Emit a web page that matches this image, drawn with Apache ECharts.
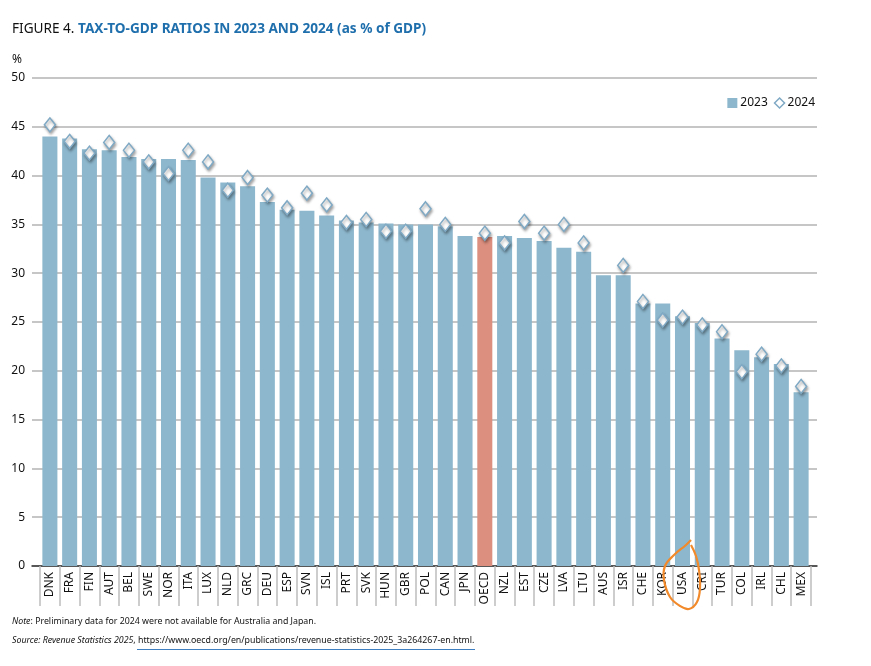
<!DOCTYPE html>
<html>
<head>
<meta charset="utf-8">
<script src="https://cdn.jsdelivr.net/npm/echarts@6/dist/echarts.min.js"></script>
<style>
  html, body { margin: 0; padding: 0; background: #fff; }
  #chart { width: 871px; height: 666px; }
</style>
</head>
<body>
<div id="chart"></div>
<script>
var chart = echarts.init(document.getElementById('chart'));

// countries, ranked by 2023 ratio
var countries = ['DNK', 'FRA', 'FIN', 'AUT', 'BEL', 'SWE', 'NOR', 'ITA', 'LUX', 'NLD',
  'GRC', 'DEU', 'ESP', 'SVN', 'ISL', 'PRT', 'SVK', 'HUN', 'GBR', 'POL',
  'CAN', 'JPN', 'OECD', 'NZL', 'EST', 'CZE', 'LVA', 'LTU', 'AUS', 'ISR',
  'CHE', 'KOR', 'USA', 'CRI', 'TUR', 'COL', 'IRL', 'CHL', 'MEX'];

// tax revenue as % of GDP, 2023
var values2023 = [44.0, 43.8, 42.7, 42.6, 41.9, 41.7, 41.7, 41.6, 39.8, 39.3,
  38.9, 37.3, 36.5, 36.4, 35.9, 35.4, 35.2, 35.1, 35.0, 35.0,
  34.8, 33.8, 33.7, 33.8, 33.6, 33.3, 32.6, 32.2, 29.8, 29.8,
  26.9, 26.9, 25.6, 24.9, 23.3, 22.1, 21.4, 20.7, 17.8];

// preliminary 2024 (not available for AUS and JPN)
var values2024 = [45.2, 43.5, 42.3, 43.4, 42.6, 41.4, 40.2, 42.6, 41.4, 38.5,
  39.8, 38.0, 36.7, 38.2, 37.0, 35.2, 35.5, 34.3, 34.3, 36.6,
  35.0, null, 34.1, 33.1, 35.3, 34.1, 35.0, 33.1, null, 30.8,
  27.1, 25.2, 25.5, 24.7, 24.0, 19.9, 21.7, 20.5, 18.4];

var yTicks = [0, 5, 10, 15, 20, 25, 30, 35, 40, 45, 50];

var barBlue = '#8db7cd';
var oecdRed = '#dc8f7e';

var barData = values2023.map(function (v, i) {
  if (countries[i] === 'OECD') {
    return { value: v, itemStyle: { color: oecdRed } };
  }
  return v;
});

var option = {
  animation: false,
  title: {
    left: 12,
    top: 22,
    padding: 0,
    text: '{a|FIGURE 4. }{b|TAX-TO-GDP RATIOS IN 2023 AND 2024 (as % of GDP)}',
    textStyle: {
      rich: {
        a: { fontFamily: 'Noto Sans', fontSize: 13.6, fontWeight: 'normal', color: '#111' },
        b: { fontFamily: 'Noto Sans', fontSize: 13.6, fontWeight: 'bold', color: '#1f6fad' }
      }
    }
  },
  legend: {
    right: 51,
    top: 92,
    itemWidth: 10,
    itemHeight: 10,
    itemGap: 6,
    textStyle: { fontFamily: 'Noto Sans', fontSize: 12, color: '#111', padding: [0, 0, 0, -2] },
    data: [
      { name: '2023', icon: 'rect' },
      { name: '2024', icon: 'diamond', itemStyle: { color: '#fff', borderColor: '#7fa9c4', borderWidth: 1.5 } }
    ]
  },
  grid: [
    { left: 32, right: 54, top: 78, bottom: 100 },
    { left: 40, right: 60, top: 78, bottom: 100 }
  ],
  xAxis: [
    {
      gridIndex: 0, type: 'value', min: 0, max: 1,
      axisLine: { show: true, onZero: false, lineStyle: { color: '#333', width: 1.5 } },
      axisTick: { show: false }, axisLabel: { show: false }, splitLine: { show: false }
    },
    {
      gridIndex: 1, type: 'category', data: countries,
      axisLine: { show: false },
      axisTick: { show: true, length: 40, lineStyle: { color: '#bdbdbd', width: 1.5 } },
      axisLabel: {
        rotate: 90, interval: 0, margin: 6,
        fontFamily: 'Noto Sans', fontSize: 12, color: '#111'
      }
    }
  ],
  yAxis: [
    {
      gridIndex: 0, type: 'value', min: 0, max: 50, interval: 5,
      name: '%', nameGap: 12,
      nameTextStyle: { fontFamily: 'Noto Sans', fontSize: 12, color: '#111', align: 'right', padding: [0, 10, 0, 0] },
      axisLine: { show: false }, axisTick: { show: false },
      axisLabel: {
        margin: 7, fontFamily: 'Noto Sans', fontSize: 12, color: '#111',
        customValues: yTicks
      },
      splitLine: { lineStyle: { color: '#b3b3b3', width: 1.5 } }
    },
    {
      gridIndex: 1, type: 'value', min: 0, max: 50, interval: 5, show: false,
      splitLine: { show: false }
    }
  ],
  series: [
    {
      name: '2023',
      type: 'bar',
      xAxisIndex: 1, yAxisIndex: 1,
      barCategoryGap: '24%',
      itemStyle: { color: barBlue },
      data: barData
    },
    {
      name: '2024',
      type: 'scatter',
      xAxisIndex: 1, yAxisIndex: 1,
      symbol: 'diamond',
      symbolSize: [11, 14],
      itemStyle: {
        color: '#fff', borderColor: '#7fa9c4', borderWidth: 1.5, opacity: 1,
        shadowColor: 'rgba(0,0,0,0.35)', shadowBlur: 3, shadowOffsetX: 1, shadowOffsetY: 2
      },
      data: values2024
    }
  ],
  graphic: [
    {
      type: 'text', left: 12, top: 617,
      style: {
        text: '{i|Note}: Preliminary data for 2024 were not available for Australia and Japan.',
        rich: { i: { fontStyle: 'italic', fontFamily: 'Noto Sans', fontSize: 8.8, fill: '#111' } },
        font: '8.8px "Noto Sans"', fill: '#111'
      }
    },
    {
      type: 'text', left: 12, top: 636,
      style: {
        text: '{i|Source: Revenue Statistics 2025}, https://www.oecd.org/en/publications/revenue-statistics-2025_3a264267-en.html.',
        rich: { i: { fontStyle: 'italic', fontFamily: 'Noto Sans', fontSize: 8.8, fill: '#111' } },
        font: '8.8px "Noto Sans"', fill: '#111'
      }
    },
    {
      type: 'line', shape: { x1: 137, y1: 649.5, x2: 475, y2: 649.5 },
      style: { stroke: '#3d7fc0', lineWidth: 1 }
    },
    {
      // hand-drawn marker around USA
      type: 'polyline',
      z: 100,
      shape: {
        smooth: 0.4,
        points: [[691, 540], [686, 545], [674, 555], [665, 566], [664, 580], [670, 597],
          [680, 606], [689, 609], [697, 602], [700, 588], [699, 570], [696, 556], [691, 545]]
      },
      style: { stroke: '#f28a2b', lineWidth: 2.2, fill: null }
    }
  ]
};

chart.setOption(option);
</script>
</body>
</html>
